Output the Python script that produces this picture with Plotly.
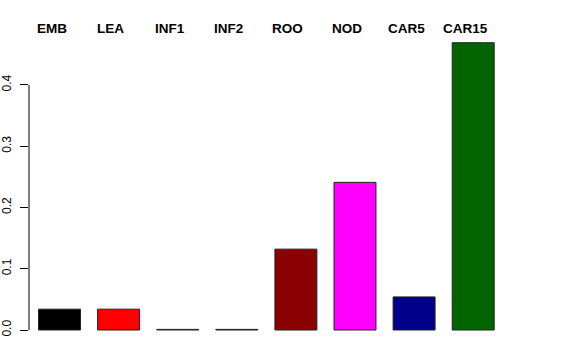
import plotly.graph_objects as go

categories = ["EMB", "LEA", "INF1", "INF2", "ROO", "NOD", "CAR5", "CAR15"]
values = [0.034, 0.034, 0.001, 0.001, 0.132, 0.241, 0.054, 0.469]
colors = ["#000000", "#FF0000", "#00CD00", "#0000FF", "#8B0000", "#FF00FF", "#00008B", "#006400"]
y_ticks = [0.0, 0.1, 0.2, 0.3, 0.4]
y_tick_labels = ["0.0", "0.1", "0.2", "0.3", "0.4"]

xpos = list(range(len(categories)))

fig = go.Figure()
fig.add_trace(go.Bar(
    x=xpos, y=values, width=0.71,
    marker=dict(color=colors, line=dict(color="#222222", width=1)),
    showlegend=False, hoverinfo="skip",
))

for i, c in enumerate(categories):
    fig.add_annotation(x=i, y=0.4914, text="<b>%s</b>" % c, showarrow=False,
                       xshift=-8, yanchor="middle", xanchor="center",
                       font=dict(family="Liberation Sans, Arial", size=13.5, color="black"))

fig.add_shape(type="line", xref="paper", x0=0, x1=0, yref="y", y0=0, y1=0.4,
              line=dict(color="black", width=1))

fig.update_layout(
    width=576, height=360,
    margin=dict(l=29, r=46, t=10, b=25, autoexpand=False),
    paper_bgcolor="white", plot_bgcolor="white",
    font=dict(family="Liberation Sans, Arial", color="black"),
    xaxis=dict(range=[-0.516, 7.961], showgrid=False, zeroline=False,
               showticklabels=False, ticks="", showline=False, automargin=False),
    yaxis=dict(range=[-0.00816, 0.5224], showgrid=False, zeroline=False,
               showline=False, tickvals=y_ticks, ticktext=y_tick_labels,
               ticks="outside", ticklen=8, tickcolor="black", tickwidth=1,
               tickangle=-90, ticklabelstandoff=4, automargin=False,
               tickfont=dict(size=12, family="Liberation Sans, Arial")),
)

fig.write_html("out.html")
